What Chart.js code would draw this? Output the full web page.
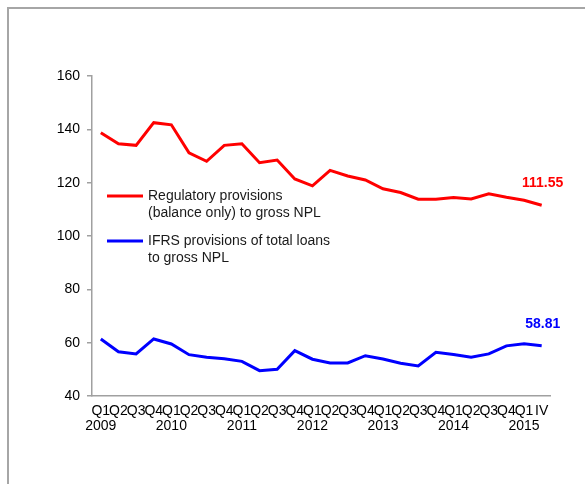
<!DOCTYPE html>
<html>
<head>
<meta charset="utf-8">
<script src="https://cdn.jsdelivr.net/npm/chart.js@4.4.0/dist/chart.umd.min.js"></script>
<style>
  html, body { margin: 0; padding: 0; background: #fff; }
  #marco {
    position: absolute; left: 7px; top: 7px; width: 580px; height: 480px;
    border-top: 2px solid #a6a6a6; border-left: 2px solid #a6a6a6;
  }
  #contenedor { position: absolute; left: 0; top: 0; width: 585px; height: 484px; }
</style>
</head>
<body>
<div id="marco"></div>
<div id="contenedor"><canvas id="grafica" width="585" height="484"></canvas></div>
<script>
// Etiquetas trimestrales (el año va en la segunda línea del Q1)
const ETIQUETAS_X = [
  ['Q1', '2009'], 'Q2', 'Q3', 'Q4',
  ['Q1', '2010'], 'Q2', 'Q3', 'Q4',
  ['Q1', '2011'], 'Q2', 'Q3', 'Q4',
  ['Q1', '2012'], 'Q2', 'Q3', 'Q4',
  ['Q1', '2013'], 'Q2', 'Q3', 'Q4',
  ['Q1', '2014'], 'Q2', 'Q3', 'Q4',
  ['Q1', '2015'], 'IV'
];

// Provisiones regulatorias (solo saldo) / NPL bruto
const PROVISIONES_REGULATORIAS = [
  138.7, 134.6, 134.0, 142.5, 141.7, 131.2, 128.0, 134.0,
  134.6, 127.5, 128.5, 121.4, 118.8, 124.6, 122.5, 121.0,
  117.7, 116.3, 113.8, 113.8, 114.4, 113.9, 115.8, 114.5,
  113.4, 111.55
];

// Provisiones IFRS del total de préstamos / NPL bruto
const PROVISIONES_IFRS = [
  61.4, 56.6, 55.8, 61.4, 59.5, 55.5, 54.5, 54.0,
  53.0, 49.5, 50.0, 57.0, 53.8, 52.4, 52.4, 55.1,
  53.9, 52.3, 51.3, 56.4, 55.6, 54.5, 55.8, 58.8,
  59.6, 58.81
];

const TICKS_Y = [40, 60, 80, 100, 120, 140, 160];

const FUENTE = '"Liberation Sans", Arial, sans-serif';
const ROJO = '#ff0000';
const AZUL = '#0000ff';
const GRIS_EJE = '#a0a0a0';

// Leyenda de dos líneas y valor del último punto de cada serie
const pluginLeyendaYValores = {
  id: 'leyendaYValores',
  afterDatasetsDraw(chart) {
    const ctx = chart.ctx;
    ctx.save();

    const entradas = [
      { color: ROJO, y: 196, lineas: ['Regulatory provisions', '(balance only) to gross NPL'] },
      { color: AZUL, y: 241, lineas: ['IFRS provisions of total loans', 'to gross NPL'] }
    ];
    ctx.font = '14px ' + FUENTE;
    ctx.textAlign = 'left';
    ctx.textBaseline = 'middle';
    entradas.forEach(e => {
      ctx.strokeStyle = e.color;
      ctx.lineWidth = 3;
      ctx.beginPath();
      ctx.moveTo(107, e.y);
      ctx.lineTo(143, e.y);
      ctx.stroke();
      ctx.fillStyle = '#1a1a1a';
      e.lineas.forEach((txt, i) => ctx.fillText(txt, 148, e.y + i * 17));
    });

    ctx.font = 'bold 14px ' + FUENTE;
    ctx.textAlign = 'center';
    chart.data.datasets.forEach((ds, i) => {
      const meta = chart.getDatasetMeta(i);
      const punto = meta.data[meta.data.length - 1];
      const valor = ds.data[ds.data.length - 1];
      ctx.fillStyle = ds.borderColor;
      ctx.fillText(valor.toFixed(2), punto.x + 1, punto.y - 22);
    });

    ctx.restore();
  }
};

const ctx = document.getElementById('grafica').getContext('2d');

new Chart(ctx, {
  type: 'line',
  data: {
    labels: ETIQUETAS_X,
    datasets: [
      {
        label: 'Regulatory provisions (balance only) to gross NPL',
        data: PROVISIONES_REGULATORIAS,
        borderColor: ROJO,
        backgroundColor: ROJO,
        borderWidth: 3,
        pointRadius: 0,
        tension: 0
      },
      {
        label: 'IFRS provisions of total loans to gross NPL',
        data: PROVISIONES_IFRS,
        borderColor: AZUL,
        backgroundColor: AZUL,
        borderWidth: 3,
        pointRadius: 0,
        tension: 0
      }
    ]
  },
  options: {
    responsive: false,
    animation: false,
    layout: { padding: { left: 0, top: 76, right: 34.5, bottom: 0 } },
    plugins: {
      legend: { display: false },
      tooltip: { enabled: false }
    },
    scales: {
      x: {
        offset: true,
        afterFit: s => { s.height = 88; },
        border: { display: true, color: GRIS_EJE, width: 1.5 },
        grid: { display: false, drawTicks: false },
        ticks: {
          autoSkip: false,
          maxRotation: 0,
          minRotation: 0,
          padding: 7,
          color: '#000',
          font: { family: FUENTE, size: 14, lineHeight: 1.1 }
        }
      },
      y: {
        min: 40,
        max: 160,
        afterFit: s => { s.width = 92; },
        afterBuildTicks: s => { s.ticks = TICKS_Y.map(v => ({ value: v })); },
        border: { display: true, color: GRIS_EJE, width: 1.5 },
        grid: { drawOnChartArea: false, drawTicks: true, tickLength: 5, color: GRIS_EJE, lineWidth: 1.5 },
        ticks: {
          padding: 7,
          color: '#000',
          font: { family: FUENTE, size: 14 }
        }
      }
    }
  },
  plugins: [pluginLeyendaYValores]
});
</script>
</body>
</html>
